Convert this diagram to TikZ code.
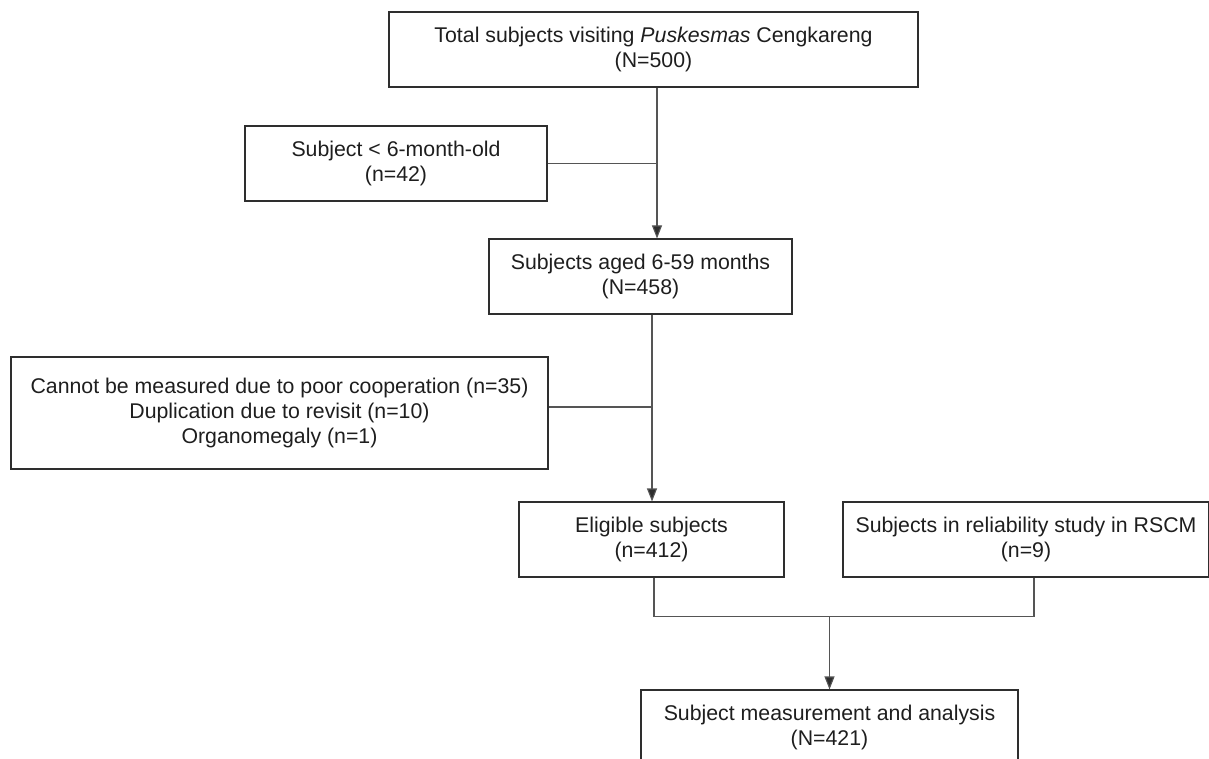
\documentclass[tikz,border=0pt]{standalone}
\usepackage{fontspec}
\setmainfont{Liberation Sans}
\usetikzlibrary{arrows.meta,calc}
\definecolor{boxc}{HTML}{2E2E2E}
\definecolor{linec}{HTML}{555555}
\definecolor{txt}{HTML}{1E1E1E}
\tikzset{
  box/.style={draw=boxc, line width=1.1pt, rectangle, inner sep=0pt, align=center,
    text=txt, font=\fontsize{21.3}{25}\selectfont},
  conn/.style={draw=linec, line width=1.1pt},
  arr/.style={conn, -{Triangle[length=13pt,width=10pt,fill=boxc]}}
}
\begin{document}
\begin{tikzpicture}[x=1pt,y=-1pt]
\useasboundingbox (0,0) rectangle (1209,759);
\node[box, minimum width=529pt, minimum height=75pt] (top) at (653.5,49.5)
  {Total subjects visiting \textit{Puskesmas} Cengkareng\\(N=500)};
\node[box, minimum width=302pt, minimum height=75pt] (lt6) at (396,163.5)
  {Subject {<} 6-month-old\\(n=42)};
\node[box, minimum width=303pt, minimum height=75pt] (aged) at (640.5,276.5)
  {Subjects aged 6-59 months\\(N=458)};
\node[box, minimum width=537pt, minimum height=112pt] (cannot) at (279.5,413)
  {Cannot be measured due to poor cooperation (n=35)\\Duplication due to revisit (n=10)\\Organomegaly (n=1)};
\node[box, minimum width=265pt, minimum height=75pt] (elig) at (651.5,539.5)
  {Eligible subjects\\(n=412)};
\node[box, minimum width=366pt, minimum height=75pt] (rel) at (1026,539.5)
  {Subjects in reliability study in RSCM\\(n=9)};
\node[box, minimum width=377pt, minimum height=75pt] (meas) at (829.5,727.5)
  {Subject measurement and analysis\\(N=421)};
% top -> aged
\coordinate (t1) at ([xshift=3.5pt]top.south);
\draw[arr] (t1) -- (t1 |- aged.north);
\draw[conn] (lt6.east) -- (lt6.east -| t1);
% aged -> elig
\coordinate (a1) at ([xshift=11.5pt]aged.south);
\draw[arr] (a1) -- (a1 |- elig.north);
\draw[conn] ([yshift=6pt]cannot.east) -- ([yshift=6pt]cannot.east -| a1);
% elig + rel -> meas
\draw[conn] ([xshift=2.5pt]elig.south) -- ++(0,39) coordinate (j1) -| ([xshift=8pt]rel.south);
\draw[arr] (j1 -| meas.north) -- (meas.north);
\end{tikzpicture}
\end{document}
